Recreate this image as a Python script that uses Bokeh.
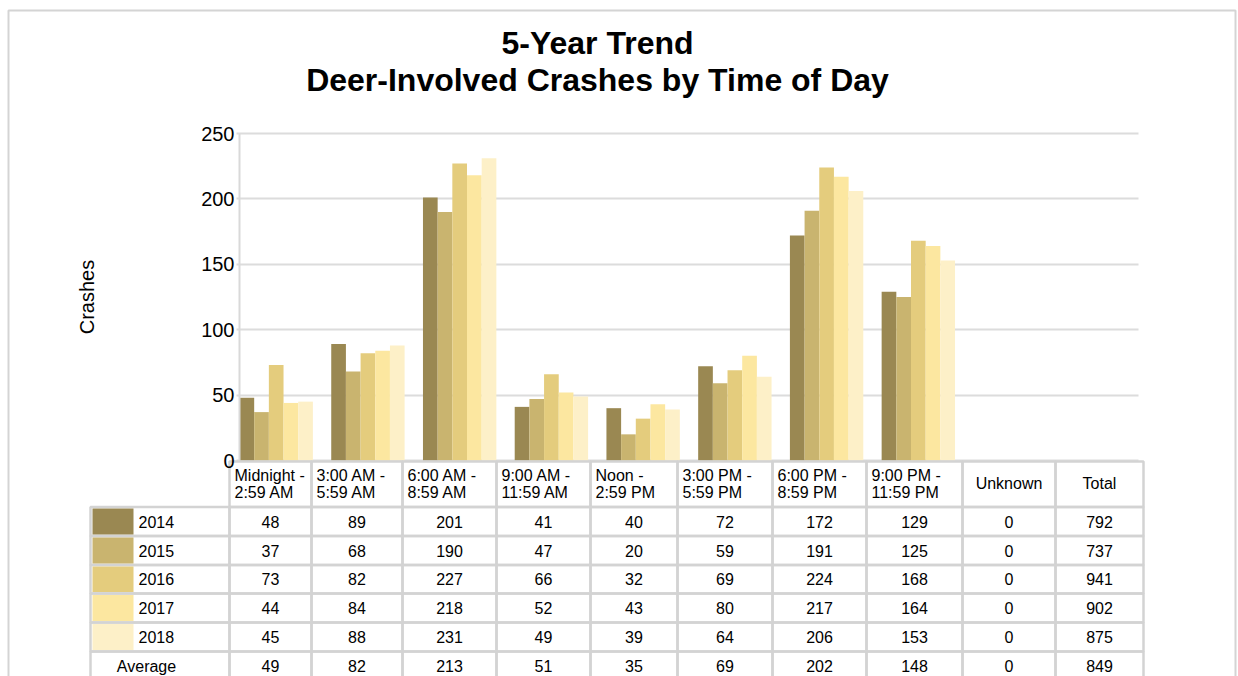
from bokeh.plotting import figure
from bokeh.plotting.glyph_api import GlyphAPI
from bokeh.models import (Range1d, FactorRange, FixedTicker, ColumnDataSource, LinearAxis,
                          Grid, CoordinateMapping, CategoricalScale, LinearScale)
from bokeh.transform import dodge
from bokeh.core.properties import value
from bokeh.embed import file_html
from bokeh.resources import INLINE

# ---------------- data ----------------
title_lines = ["5-Year Trend", "Deer-Involved Crashes by Time of Day"]
y_label = "Crashes"
categories = ["Midnight - 2:59 AM", "3:00 AM - 5:59 AM", "6:00 AM - 8:59 AM",
              "9:00 AM - 11:59 AM", "Noon - 2:59 PM", "3:00 PM - 5:59 PM",
              "6:00 PM - 8:59 PM", "9:00 PM - 11:59 PM", "Unknown", "Total"]
years = ["2014", "2015", "2016", "2017", "2018"]
colors = ["#9A8852", "#C9B46F", "#E4CC7D", "#FCE7A0", "#FDF0C8"]
crashes_2014 = [48, 89, 201, 41, 40, 72, 172, 129, 0]
crashes_2015 = [37, 68, 190, 47, 20, 59, 191, 125, 0]
crashes_2016 = [73, 82, 227, 66, 32, 69, 224, 168, 0]
crashes_2017 = [44, 84, 218, 52, 43, 80, 217, 164, 0]
crashes_2018 = [45, 88, 231, 49, 39, 64, 206, 153, 0]
year_totals = [792, 737, 941, 902, 875]
average_label = "Average"
average_row = [49, 82, 213, 51, 35, 69, 202, 148, 0, 849]
y_ticks = [0, 50, 100, 150, 200, 250]

series = [crashes_2014, crashes_2015, crashes_2016, crashes_2017, crashes_2018]

# ---------------- layout constants (page pixels) ----------------
FONT = "Liberation Sans"
CW, CH = 1238, 676
PLOT_L, PLOT_R = 239, 1138
PLOT_TOP, PLOT_BOTTOM = 133, 460
GRID_L = 236
COL_EDGES = [229, 311, 402, 496, 590, 677, 772, 866, 962, 1055, 1143]
ROW_EDGES = [461, 506.5, 535.5, 564.5, 593, 622, 651, 680]
LEGEND_LEFT = 90
TABLE_LINE = "#d3d3d3"
FRAME_LINE = "#d4d4d4"

p = figure(width=CW, height=CH, x_range=Range1d(0, CW), y_range=Range1d(CH, 0),
           toolbar_location=None, output_backend="svg", min_border=0,
           x_axis_location=None, y_axis_location=None)
p.grid.visible = False
p.outline_line_color = None

# outer frame
p.line(x=[8, 8, 1235, 1235], y=[CH, 10, 10, CH], line_color=FRAME_LINE, line_width=2)

# ---------------- title ----------------
p.text(x=[597, 597], y=[42, 79], text=title_lines, text_font=value(FONT),
       text_font_size="32px", text_font_style="bold", text_align="center",
       text_baseline="middle", text_color="black")

# ---------------- value axis (extra range matching the bar area) ----------------
ymin, ymax = y_ticks[0], y_ticks[-1]
ppu = (PLOT_BOTTOM - PLOT_TOP) / (ymax - ymin)
p.extra_y_ranges = {"crash": Range1d(ymin - (CH - PLOT_BOTTOM) / ppu, ymax + PLOT_TOP / ppu)}

grid = Grid(dimension=1, y_range_name="crash", ticker=FixedTicker(ticks=y_ticks),
            cross_bounds=(GRID_L, PLOT_R), grid_line_color="#dcdcdc", grid_line_width=2)
p.add_layout(grid)

ax = LinearAxis(y_range_name="crash", ticker=FixedTicker(ticks=y_ticks), bounds=(ymin, ymax),
                fixed_location=PLOT_L)
ax.axis_label = y_label
ax.axis_label_text_font = FONT
ax.axis_label_text_font_size = "20px"
ax.axis_label_text_font_style = "normal"
ax.axis_label_text_color = "black"
ax.axis_label_standoff = 100
ax.major_label_text_font = FONT
ax.major_label_text_font_size = "20px"
ax.major_label_text_color = "black"
ax.major_tick_line_color = None
ax.minor_tick_line_color = None
ax.major_tick_out = 0
ax.major_tick_in = 0
ax.major_label_standoff = 5
ax.axis_line_color = "#d9d9d9"
ax.axis_line_width = 2
p.add_layout(ax, "left")

# ---------------- bars (categorical sub-coordinates) ----------------
cat_range = FactorRange(*categories, range_padding=-0.1, range_padding_units="absolute")
cm = CoordinateMapping(x_source=cat_range, y_source=Range1d(ymin, ymax),
                       x_scale=CategoricalScale(), y_scale=LinearScale(),
                       x_target=Range1d(PLOT_L, PLOT_R), y_target=Range1d(PLOT_BOTTOM, PLOT_TOP))
bars = GlyphAPI(p, cm)

src_data = {"cat": categories[:len(crashes_2014)]}
for yr, vals in zip(years, series):
    src_data["y" + yr] = vals
src = ColumnDataSource(src_data)
n = len(years)
bw = 0.8 / n
for i, (yr, col) in enumerate(zip(years, colors)):
    off = (i - (n - 1) / 2) * bw
    bars.vbar(x=dodge("cat", off, range=cat_range), top="y" + yr, width=bw, source=src,
              fill_color=col, line_color=None)

# ---------------- table ----------------
ql, qr, qt, qb = [], [], [], []
for k in range(len(categories)):
    ql.append(COL_EDGES[k]); qr.append(COL_EDGES[k + 1])
    qt.append(ROW_EDGES[0]); qb.append(ROW_EDGES[1])
nrows = len(years) + 1
for r in range(nrows):
    lefts = [LEGEND_LEFT] + COL_EDGES[:-1]
    for l, rr in zip(lefts, COL_EDGES):
        ql.append(l); qr.append(rr)
        qt.append(ROW_EDGES[r + 1]); qb.append(ROW_EDGES[r + 2])
p.quad(left=ql, right=qr, top=qt, bottom=qb, fill_color=None, line_color=TABLE_LINE, line_width=2.5)

p.quad(left=[92] * len(years), right=[133] * len(years),
       top=[ROW_EDGES[r + 1] + 1.5 for r in range(len(years))],
       bottom=[ROW_EDGES[r + 2] - 1.5 for r in range(len(years))],
       fill_color=colors, line_color=None)

hx1, hy1, ht1 = [], [], []
cx, cy, ct = [], [], []
for k, cat in enumerate(categories):
    if " - " in cat:
        a, b = cat.split(" - ")
        hx1 += [COL_EDGES[k] + 5, COL_EDGES[k] + 5]
        hy1 += [474.5, 491.5]
        ht1 += [a + " -", b]
    else:
        cx.append((COL_EDGES[k] + COL_EDGES[k + 1]) / 2)
        cy.append(483)
        ct.append(cat)
p.text(x=hx1, y=hy1, text=ht1, text_font=value(FONT), text_font_size="16px",
       text_align="left", text_baseline="middle", text_color="black")

for r in range(nrows):
    ymid = (ROW_EDGES[r + 1] + ROW_EDGES[r + 2]) / 2
    vals = series[r] + [year_totals[r]] if r < len(years) else average_row
    for k, v in enumerate(vals):
        cx.append((COL_EDGES[k] + COL_EDGES[k + 1]) / 2)
        cy.append(ymid)
        ct.append(str(v))
p.text(x=cx, y=cy, text=ct, text_font=value(FONT), text_font_size="16px",
       text_align="center", text_baseline="middle", text_color="black")

p.text(x=[138] * len(years), y=[(ROW_EDGES[r + 1] + ROW_EDGES[r + 2]) / 2 for r in range(len(years))],
       text=years, text_font=value(FONT), text_font_size="16px",
       text_align="left", text_baseline="middle", text_color="black")
p.text(x=[146], y=[(ROW_EDGES[-2] + ROW_EDGES[-1]) / 2], text=[average_label],
       text_font=value(FONT), text_font_size="16px",
       text_align="center", text_baseline="middle", text_color="black")

open("out.html", "w").write(file_html(p, INLINE))
